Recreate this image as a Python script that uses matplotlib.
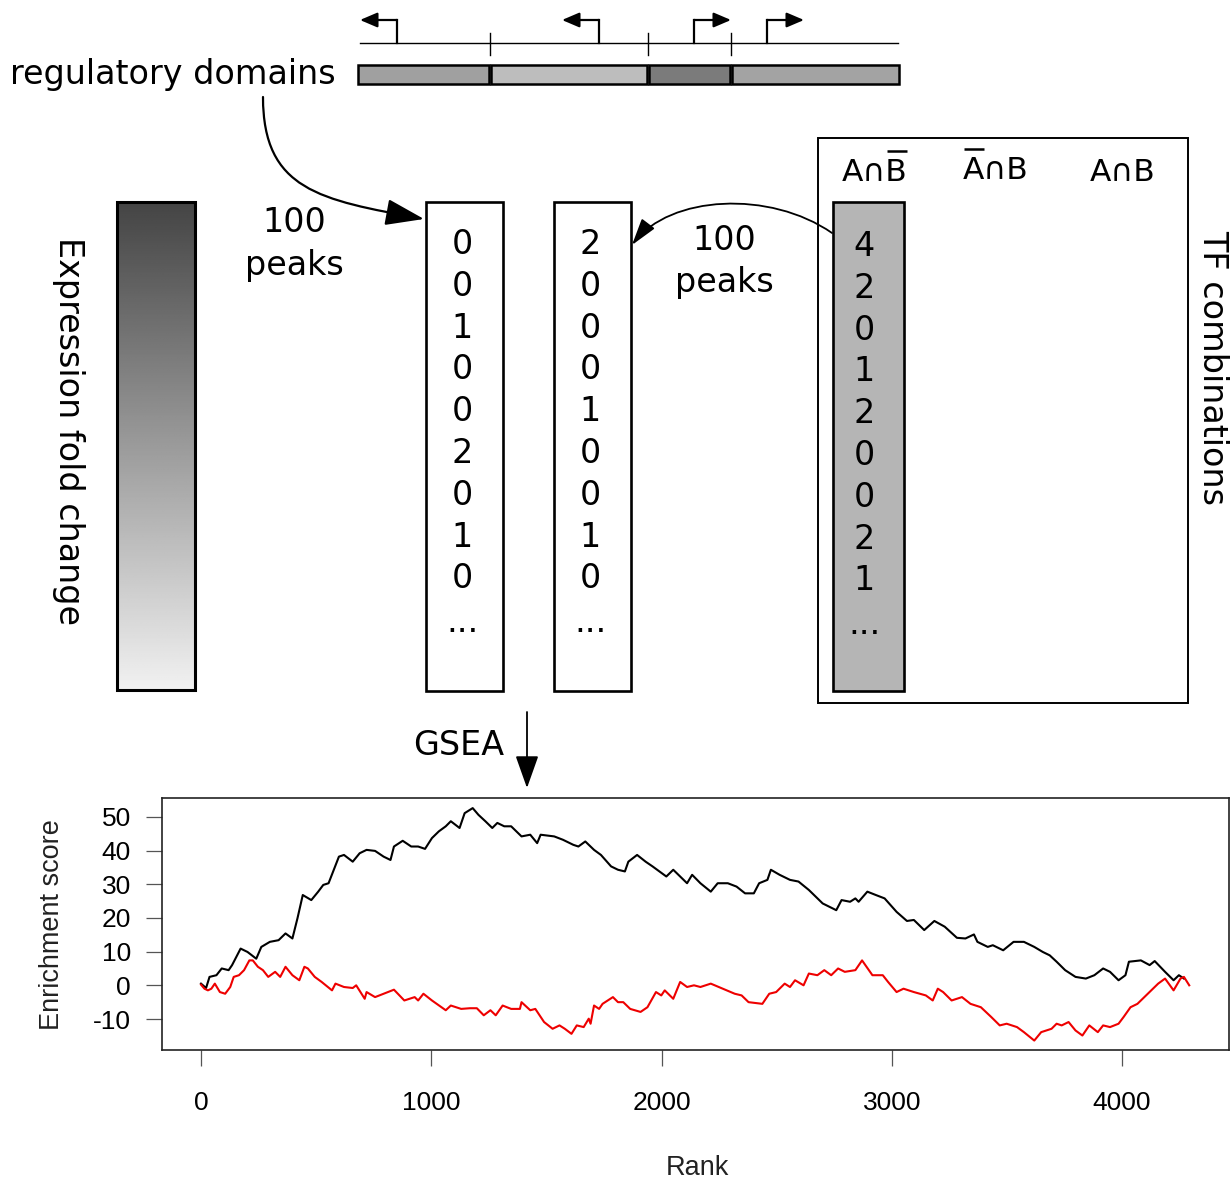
import numpy as np
import matplotlib
matplotlib.use("Agg")
import matplotlib.pyplot as plt
from matplotlib.patches import Rectangle, FancyArrowPatch
from matplotlib.path import Path

# ---------------- data ----------------
# regulatory domains (schematic genomic coordinates) and their shades
domain_edges = [358, 490, 648, 731, 899]
domain_colors = ['#a0a0a0', '#bdbdbd', '#7b7b7b', '#a3a3a3']
tss_pos = [397, 599, 694, 767]
tss_dir = [-1, -1, 1, 1]

# peak counts per regulatory domain
counts_A = [0, 0, 1, 0, 0, 2, 0, 1, 0]
counts_B = [2, 0, 0, 0, 1, 0, 0, 1, 0]
counts_AnotB = [4, 2, 0, 1, 2, 0, 0, 2, 1]

# TF combinations: text and which letter (0 = A, 2 = B, None) carries a bar
tf_labels = ['A\u2229B', 'A\u2229B', 'A\u2229B']
tf_negated = [2, 0, None]

# GSEA running enrichment scores
black_rank = [0, 22, 37, 67, 90, 120, 135, 172, 202, 240,
              262, 299, 337, 367, 397, 419, 442, 479, 509, 531,
              554, 599, 621, 659, 689, 719, 756, 793, 823, 838,
              876, 913, 943, 973, 1003, 1033, 1063, 1085, 1123, 1145,
              1180, 1205, 1235, 1265, 1287, 1317, 1347, 1392, 1430, 1460,
              1475, 1534, 1572, 1617, 1639, 1669, 1707, 1737, 1781, 1811,
              1841, 1856, 1894, 1931, 1961, 2021, 2051, 2111, 2133, 2169,
              2214, 2244, 2288, 2326, 2363, 2401, 2424, 2460, 2475, 2513,
              2558, 2595, 2640, 2700, 2759, 2782, 2819, 2842, 2856, 2894,
              2931, 2969, 3021, 3066, 3096, 3141, 3185, 3230, 3283, 3320,
              3357, 3372, 3417, 3439, 3484, 3529, 3574, 3619, 3656, 3686,
              3716, 3753, 3798, 3843, 3880, 3918, 3948, 3985, 4015, 4030,
              4082, 4120, 4142, 4187, 4224, 4247, 4269]
black_es = [0.5, -0.8, 2.5, 3.0, 5.0, 4.5, 6.0, 10.9, 9.9, 7.9,
            11.4, 12.9, 13.4, 15.4, 13.9, 19.9, 26.8, 25.3, 27.8, 29.8,
            30.3, 38.2, 38.7, 36.7, 39.2, 40.2, 39.9, 38.2, 37.2, 41.2,
            42.9, 41.2, 41.2, 40.5, 43.7, 45.7, 47.2, 48.7, 46.7, 51.1,
            52.6, 50.6, 48.7, 46.7, 48.2, 47.2, 47.2, 44.2, 44.7, 42.2,
            44.7, 44.2, 43.2, 41.7, 41.2, 42.7, 40.2, 38.7, 35.3, 34.3,
            33.8, 36.7, 38.7, 36.7, 35.3, 32.3, 34.3, 30.3, 32.8, 30.3,
            27.8, 30.3, 30.3, 29.3, 27.3, 27.3, 30.3, 31.3, 34.3, 32.8,
            31.3, 30.8, 28.3, 24.3, 22.3, 25.3, 24.8, 25.8, 24.8, 27.8,
            26.8, 25.8, 21.8, 19.1, 19.4, 16.4, 19.1, 17.4, 14.1, 13.9,
            15.1, 12.9, 11.4, 11.9, 10.4, 12.9, 12.9, 11.4, 9.9, 8.9,
            7.0, 4.5, 2.5, 2.0, 3.0, 5.0, 4.0, 1.5, 3.0, 7.0,
            7.4, 6.0, 7.2, 4.0, 1.5, 3.0, 2.0]

red_rank = [0, 15, 30, 45, 60, 82, 105, 127, 142, 165,
            187, 210, 225, 247, 269, 292, 322, 344, 367, 397,
            427, 449, 464, 494, 524, 569, 584, 621, 659, 674,
            711, 719, 756, 793, 838, 883, 928, 943, 966, 1003,
            1063, 1085, 1130, 1168, 1198, 1228, 1257, 1280, 1310, 1347,
            1385, 1392, 1430, 1452, 1490, 1527, 1557, 1580, 1609, 1632,
            1662, 1684, 1692, 1707, 1729, 1744, 1789, 1811, 1834, 1864,
            1909, 1939, 1976, 1999, 2014, 2051, 2081, 2111, 2141, 2169,
            2214, 2266, 2318, 2348, 2378, 2438, 2468, 2498, 2535, 2558,
            2580, 2617, 2640, 2677, 2707, 2737, 2767, 2796, 2842, 2871,
            2916, 2961, 2984, 3021, 3051, 3096, 3148, 3178, 3200, 3223,
            3260, 3305, 3342, 3387, 3432, 3469, 3499, 3544, 3574, 3619,
            3649, 3694, 3716, 3738, 3768, 3798, 3828, 3858, 3895, 3918,
            3948, 3985, 4007, 4037, 4067, 4097, 4127, 4157, 4187, 4224,
            4254, 4269, 4292]
red_es = [0.2, -1.0, -1.5, -1.0, 0.5, -2.0, -2.5, -0.5, 2.5, 3.0,
          4.5, 7.4, 7.4, 5.5, 4.5, 2.5, 4.0, 2.5, 5.5, 3.0,
          1.5, 5.5, 5.0, 2.5, 1.0, -1.5, 0.5, -0.5, -0.8, 0.0,
          -4.0, -2.0, -3.5, -2.5, -1.3, -4.5, -3.5, -4.5, -2.5, -4.5,
          -7.4, -6.0, -7.0, -6.8, -6.8, -8.9, -7.4, -8.9, -6.0, -7.0,
          -7.0, -5.0, -7.4, -7.0, -10.9, -12.9, -11.9, -12.9, -14.4, -11.9,
          -12.4, -9.9, -11.4, -6.0, -7.0, -5.5, -3.5, -5.0, -5.0, -7.0,
          -7.9, -6.5, -2.0, -3.0, -1.5, -4.0, 1.0, -0.5, 0.0, -0.5,
          0.5, -1.0, -2.5, -3.0, -5.0, -5.5, -2.5, -2.0, 0.5, -0.5,
          1.5, 0.0, 3.5, 3.0, 4.5, 3.0, 5.0, 4.0, 4.5, 7.4,
          3.0, 3.0, 1.0, -2.0, -1.0, -2.0, -3.0, -4.5, -1.0, -2.0,
          -4.5, -3.5, -5.5, -6.5, -9.4, -11.9, -11.4, -12.4, -13.9, -16.4,
          -13.9, -12.9, -11.4, -11.9, -10.9, -13.4, -14.9, -11.9, -13.9, -11.9,
          -12.4, -11.4, -9.4, -6.5, -5.5, -3.5, -1.5, 0.5, 2.0, -1.5,
          2.0, 2.5, 0.0]

x_ticks = [0, 1000, 2000, 3000, 4000]
y_ticks = [-10, 0, 10, 20, 30, 40, 50]

# ---------------- figure ----------------
fig = plt.figure(figsize=(12.32, 11.82), dpi=100)
ax0 = fig.add_axes([0, 0, 1, 1])
ax0.set_xlim(0, 1232)
ax0.set_ylim(1182, 0)
ax0.axis('off')

DJ = 'DejaVu Sans'

# gene track
ax0.plot([360, 898], [43, 43], color='black', lw=1.0)
for b in domain_edges[1:-1]:
    ax0.plot([b, b], [33, 55], color='black', lw=1.0)
for i, c in enumerate(domain_colors):
    x0 = domain_edges[i] + (0.5 if i > 0 else 0)
    x1 = domain_edges[i + 1] - (1.0 if i < len(domain_colors) - 1 else 0)
    ax0.add_patch(Rectangle((x0, 65), x1 - x0, 19, fc=c, ec='black', lw=1.8))
for x, d in zip(tss_pos, tss_dir):
    ax0.plot([x, x], [43, 20], color='black', lw=1.6, solid_capstyle='projecting')
    ax0.add_patch(FancyArrowPatch((x, 20), (x + d * 37, 20),
                                  arrowstyle='-|>,head_length=0.75,head_width=0.32',
                                  mutation_scale=14, lw=1.6, color='black',
                                  shrinkA=0, shrinkB=0))

ax0.text(10, 84, 'regulatory domains', fontsize=24, family=DJ, ha='left', va='baseline')

# curved arrow regulatory domains -> box 1
p1 = Path([(263, 97), (263, 190), (320, 200), (424, 219)],
          [Path.MOVETO, Path.CURVE4, Path.CURVE4, Path.CURVE4])
ax0.add_patch(FancyArrowPatch(path=p1, arrowstyle='-|>,head_length=1.6,head_width=0.55',
                              mutation_scale=15, lw=1.6, color='black'))
ax0.text(294, 232, '100', fontsize=24, family=DJ, ha='center', va='baseline')
ax0.text(294, 275, 'peaks', fontsize=24, family=DJ, ha='center', va='baseline')

# gradient bar
grad = np.linspace(0.27, 0.945, 256).reshape(-1, 1)
ax0.imshow(grad, cmap='gray', vmin=0, vmax=1, extent=(117, 195, 690, 202),
           origin='upper', aspect='auto', interpolation='bilinear', zorder=1)
ax0.add_patch(Rectangle((117, 202), 78, 488, fc='none', ec='black', lw=2.2, zorder=2))
ax0.set_xlim(0, 1232)
ax0.set_ylim(1182, 0)
ax0.text(68, 431, 'Expression fold change', fontsize=24, family=DJ,
         rotation=-90, ha='center', va='center')

# count boxes
row_step = 41.8
def draw_box(x0, x1, counts, y0, fc, dx):
    ax0.add_patch(Rectangle((x0, 202), x1 - x0, 489, fc=fc, ec='black', lw=1.9, zorder=2))
    xc = (x0 + x1) / 2 + dx
    for k, v in enumerate(counts):
        ax0.text(xc, y0 + 12 + k * row_step, str(v), fontsize=24, family=DJ,
                 ha='center', va='baseline', zorder=3)
    ax0.text(xc, y0 + len(counts) * row_step + 14, '...', fontsize=24, family=DJ,
             ha='center', va='baseline', zorder=3)

draw_box(426, 503, counts_A, 242, 'white', -2.5)
draw_box(554, 631, counts_B, 242, 'white', -2.5)

# TF combinations frame
ax0.add_patch(Rectangle((818, 138), 370, 565, fc='none', ec='black', lw=1.4))
draw_box(833, 904, counts_AnotB, 244, '#b5b5b5', -4.5)

fig.canvas.draw()
renderer = fig.canvas.get_renderer()
inv = ax0.transData.inverted()
TFS = 22.5
for xc, lab, neg, yb in zip([875, 996, 1123], tf_labels, tf_negated, [181, 179, 181]):
    t = ax0.text(xc, yb, lab, fontsize=TFS, family=DJ, ha='center', va='baseline')
    if neg is not None:
        bb = t.get_window_extent(renderer)
        (bx0, _), (bx1, _) = inv.transform([(bb.x0, bb.y0), (bb.x1, bb.y1)])
        probe = ax0.text(0, 0, lab[:neg], fontsize=TFS, family=DJ)
        w_pre = probe.get_window_extent(renderer).width if neg > 0 else 0.0
        probe.remove()
        probe = ax0.text(0, 0, lab[neg], fontsize=TFS, family=DJ)
        w_ch = probe.get_window_extent(renderer).width
        probe.remove()
        lx0 = bx0 + w_pre + 1
        lx1 = lx0 + w_ch - 2
        ax0.plot([lx0, lx1], [yb - 30, yb - 30], color='black', lw=1.8,
                 solid_capstyle='butt')
ax0.text(1213, 367, 'TF combinations', fontsize=24, family=DJ,
         rotation=-90, ha='center', va='center')

# curved arrow from A∩notB column to box 2
p2 = Path([(832, 233), (770, 190), (670, 195), (632, 245)],
          [Path.MOVETO, Path.CURVE4, Path.CURVE4, Path.CURVE4])
ax0.add_patch(FancyArrowPatch(path=p2, arrowstyle='-|>,head_length=1.1,head_width=0.33',
                              mutation_scale=15, lw=1.3, color='black'))
ax0.text(724, 250, '100', fontsize=24, family=DJ, ha='center', va='baseline')
ax0.text(724, 292, 'peaks', fontsize=24, family=DJ, ha='center', va='baseline')

# GSEA arrow
ax0.add_patch(FancyArrowPatch((527, 712), (527, 788),
                              arrowstyle='-|>,head_length=1.35,head_width=0.48',
                              mutation_scale=15, lw=1.3, color='black',
                              shrinkA=0, shrinkB=0))
ax0.text(459, 755, 'GSEA', fontsize=24, family=DJ, ha='center', va='baseline')

# ---------------- GSEA plot ----------------
LS = 'Liberation Sans'
ax = fig.add_axes([162 / 1232, 1 - 1050 / 1182, (1229 - 162) / 1232, (1050 - 798) / 1182])
ax.plot(black_rank, black_es, color='black', lw=1.5)
ax.plot(red_rank, red_es, color='#ee0000', lw=1.5)
ax.set_xlim(-169.4, 4464.7)
ax.set_ylim(-19.2, 55.6)
ax.set_xticks(x_ticks)
ax.set_yticks(y_ticks)
ax.set_xticklabels([str(t) for t in x_ticks], family=LS, fontsize=19)
ax.set_yticklabels([str(t) for t in y_ticks], family=LS, fontsize=19)
ax.tick_params(axis='x', length=11.5, width=0.9, color='#555555', pad=18)
ax.tick_params(axis='y', length=11.5, width=0.9, color='#555555', pad=11)
for s in ax.spines.values():
    s.set_linewidth(1.2)
    s.set_color('#222222')
ax.text(0.5014, -0.468, 'Rank', transform=ax.transAxes, ha='center', va='center',
        family=LS, fontsize=19.5, color='#222222')
ax.text(-0.103, 0.496, 'Enrichment score', transform=ax.transAxes, ha='center',
        va='center', rotation=90, family=LS, fontsize=19.5, color='#222222')

fig.savefig('out.png', dpi=100)
